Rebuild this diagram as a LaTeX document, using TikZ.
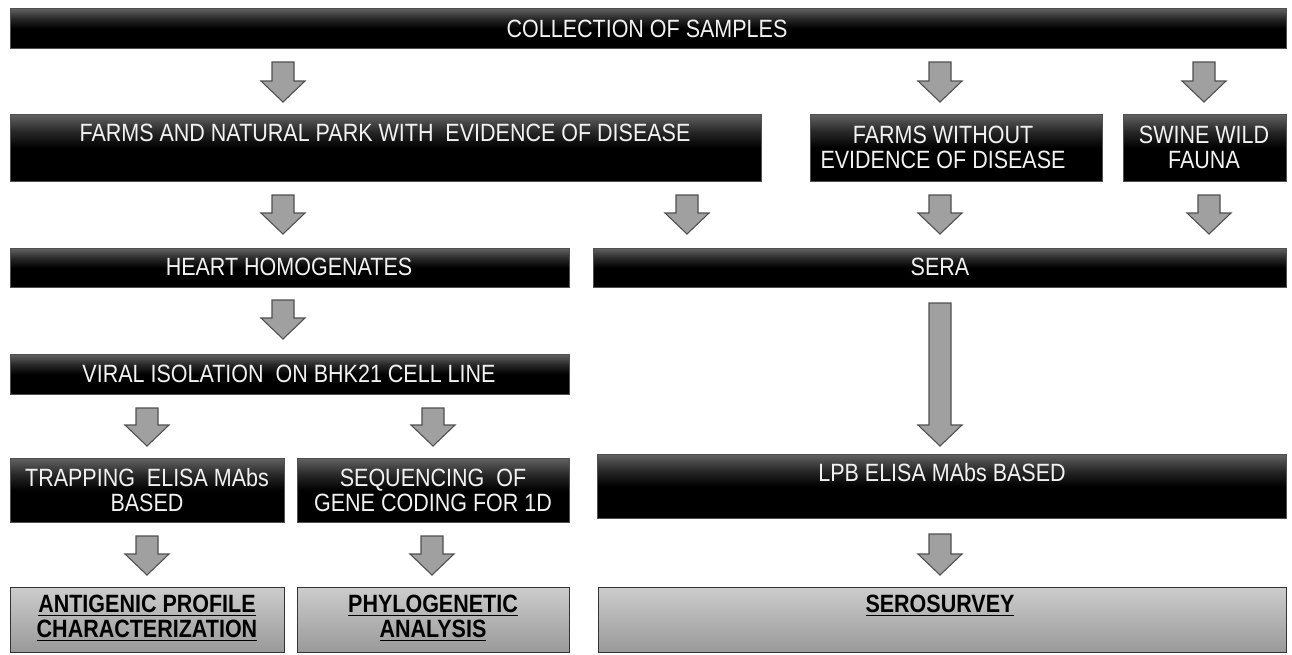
\documentclass[tikz,border=0pt]{standalone}
\usepackage{fontspec}
\setmainfont{Liberation Sans}[FakeStretch=0.86]
\usetikzlibrary{calc}
\definecolor{arrfill}{HTML}{A0A0A0}
\definecolor{arrdraw}{HTML}{505050}
\definecolor{boxedge}{HTML}{505050}
\definecolor{txtw}{HTML}{F2F2F2}
\pgfdeclareverticalshading{glossy}{100bp}{color(0bp)=(black); color(25bp)=(black); color(50bp)=(black); color(62bp)=(black!85); color(75bp)=(black!62); color(100bp)=(black!62)}
\newcommand\ulx[1]{\setbox0\hbox{#1}\rlap{\rule[-3.5pt]{\wd0}{1.8pt}}\box0}
\newcommand\bx[6]{\node[#6, anchor=north west, minimum width={#4pt-#2pt}, minimum height={#5pt-#3pt}] (#1) at (#2,#3) {};}
\newcommand\barrow[5]{\draw[blockarr] let \p1=(#2.south), \p2=(#3.north) in
  ({#1pt-11pt},{\y1-#4pt}) -- ({#1pt+11pt},{\y1-#4pt}) -- ({#1pt+11pt},{\y2+#5pt+21pt}) --
  ({#1pt+22pt},{\y2+#5pt+21pt}) -- ({#1pt},{\y2+#5pt}) -- ({#1pt-22pt},{\y2+#5pt+21pt}) --
  ({#1pt-11pt},{\y2+#5pt+21pt}) -- cycle;}
\tikzset{
  blackbox/.style={rectangle, inner sep=0pt, draw=boxedge, line width=1pt, shading=glossy},
  graybox/.style={rectangle, inner sep=0pt, draw=black!80, line width=1pt, top color=black!20, bottom color=black!40},
  wtext/.style={text=txtw, align=center, inner sep=0pt, font=\fontsize{25}{25}\selectfont},
  btext/.style={text=black, align=center, inner sep=0pt, font=\fontsize{25}{25}\selectfont\bfseries},
  blockarr/.style={fill=arrfill, draw=arrdraw, line width=1.1pt, line join=miter},
}
\begin{document}
\begin{tikzpicture}[x=1pt,y=-1pt]
\useasboundingbox (0,0) rectangle (1292,654);
\fill[white] (0,0) rectangle (1292,654);
% boxes
\bx{coll}{10}{8}{1286}{48}{blackbox}
\bx{farms}{10}{114}{761}{181}{blackbox}
\bx{farmsno}{810}{114}{1102}{181}{blackbox}
\bx{swine}{1123}{114}{1286}{181}{blackbox}
\bx{heart}{10}{248}{569}{287}{blackbox}
\bx{sera}{593}{248}{1286}{287}{blackbox}
\bx{viral}{10}{354}{569}{394}{blackbox}
\bx{trap}{10}{458}{284}{522}{blackbox}
\bx{seq}{297}{458}{569}{522}{blackbox}
\bx{lpb}{597}{454}{1286}{518}{blackbox}
\bx{anti}{10}{587}{284}{652}{graybox}
\bx{phylo}{297}{587}{569}{652}{graybox}
\bx{sero}{598}{587}{1286}{652}{graybox}
% texts
\node[wtext] (tcoll) at (647,29) {COLLECTION OF SAMPLES};
\node[wtext] (tfarms) at (385,133) {FARMS AND NATURAL PARK WITH\ \ EVIDENCE OF DISEASE};
\node[wtext] (tfarmsno) at (943,147.5) {FARMS WITHOUT\\EVIDENCE OF DISEASE};
\node[wtext] (tswine) at (1204,147.5) {SWINE WILD\\FAUNA};
\node[wtext] (theart) at (289,267) {HEART HOMOGENATES};
\node[wtext] (tsera) at (940,267) {SERA};
\node[wtext] (tviral) at (289,374) {VIRAL ISOLATION\ \ ON BHK21 CELL LINE};
\node[wtext] (ttrap) at (147,490.5) {TRAPPING\ \ ELISA MAbs\\BASED};
\node[wtext] (tseq) at (433,490.5) {SEQUENCING\ \ OF\\GENE CODING FOR 1D};
\node[wtext] (tlpb) at (942,473) {LPB ELISA MAbs BASED};
\node[btext] (tanti) at (147,618.5) {\ulx{ANTIGENIC PROFILE}\\\ulx{CHARACTERIZATION}};
\node[btext] (tphylo) at (433,618.5) {\ulx{PHYLOGENETIC}\\\ulx{ANALYSIS}};
\node[btext] (tsero) at (940,606) {\ulx{SEROSURVEY}};
% arrows
\barrow{283}{coll}{farms}{13}{12}
\barrow{940}{coll}{farmsno}{13}{12}
\barrow{1204}{coll}{swine}{13}{12}
\barrow{283}{farms}{heart}{13}{14}
\barrow{687}{farms}{sera}{13}{14}
\barrow{940}{farmsno}{sera}{13}{14}
\barrow{1209}{swine}{sera}{13}{14}
\barrow{283}{heart}{viral}{12}{15}
\barrow{147}{viral}{trap}{13}{12}
\barrow{433}{viral}{seq}{13}{12}
\barrow{940}{sera}{lpb}{15}{8}
\barrow{147}{trap}{anti}{13}{12}
\barrow{432}{seq}{phylo}{13}{12}
\barrow{940}{lpb}{sero}{15}{12}
\end{tikzpicture}
\end{document}
